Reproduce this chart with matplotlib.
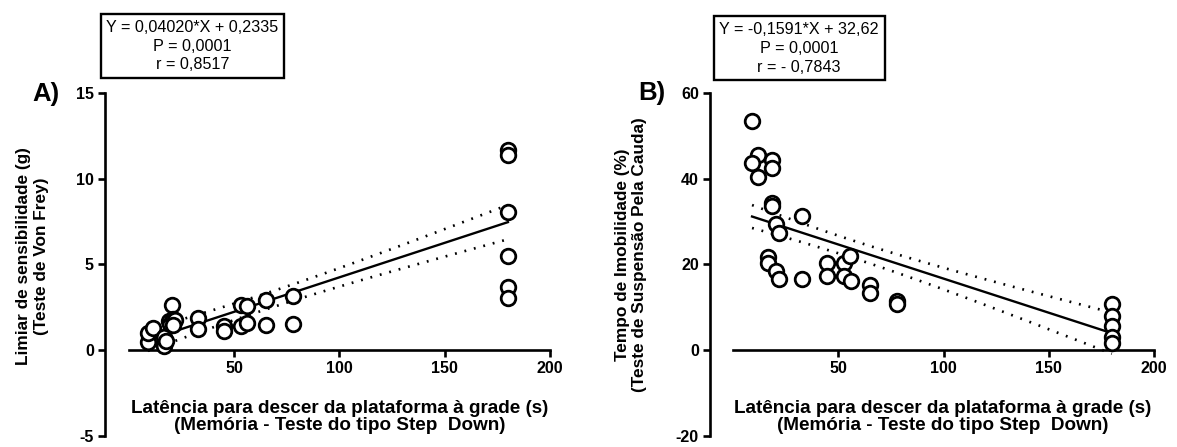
import numpy as np
import matplotlib
matplotlib.use("Agg")
import matplotlib.pyplot as plt

plt.rcParams['font.family'] = ['Liberation Sans', 'DejaVu Sans']
plt.rcParams['axes.unicode_minus'] = False

# Panel A: latency (s) vs. Von Frey threshold (g)
lat_a = [9, 9, 11.5, 16.5, 16.5, 17.5, 19, 19.5, 20.5, 21, 22, 21, 33, 33,
         45, 45, 53, 53, 56, 56, 65, 65, 78, 78, 180, 180, 180, 180, 180, 180]
von_frey = [0.5, 1.0, 1.27, 0.25, 0.8, 0.55, 1.7, 1.55, 2.65, 1.85, 1.75, 1.5, 1.9, 1.25,
            1.42, 1.12, 2.65, 1.4, 2.6, 1.6, 2.95, 1.45, 3.15, 1.55, 11.65, 11.4, 8.05, 5.5, 3.7, 3.05]
slope_a, icpt_a = 0.04020, 0.2335
band_end_a = 1.0   # half-width of the dotted band at the last x

# Panel B: latency (s) vs. immobility time (%)
lat_b = [9, 12, 9, 12, 18.7, 18.7, 18.7, 18.7, 32.7, 20.4, 21.6, 16.8, 16.8, 20.4, 21.6, 32.7,
         44.8, 44.8, 52.7, 52.7, 55.7, 56.2, 65, 65, 78, 78, 180, 180, 180, 180, 180]
imob = [53.5, 45.5, 43.6, 40.3, 44.3, 42.6, 34.4, 33.7, 31.3, 29.5, 27.4, 21.8, 20.4, 18.4, 16.7, 16.7,
        20.4, 17.3, 20.4, 17.3, 22.0, 16.2, 15.2, 13.4, 11.4, 10.9, 10.7, 8.0, 5.6, 3.2, 1.7]
slope_b, icpt_b = -0.1591, 32.62
band_end_b = 4.8

box_a = "Y = 0,04020*X + 0,2335\nP = 0,0001\nr = 0,8517"
box_b = "Y = -0,1591*X + 32,62\nP = 0,0001\nr = - 0,7843"
xlab = "Latência para descer da plataforma à grade (s)\n(Memória - Teste do tipo Step  Down)"
ylab_a = "Limiar de sensibilidade (g)\n(Teste de Von Frey)"
ylab_b = "Tempo de Imobilidade (%)\n(Teste de Suspensão Pela Cauda)"


def panel(ax, x, y, slope, icpt, band_end, ylim, yticks, xleft):
    x = np.array(x, float)
    y = np.array(y, float)
    xs = np.linspace(x.min(), x.max(), 100)
    fit = slope * xs + icpt
    # confidence band shape of the fitted line, scaled to the width seen in the figure
    n = len(x)
    shape = np.sqrt(1 / n + (xs - x.mean()) ** 2 / ((x - x.mean()) ** 2).sum())
    half = shape / shape[-1] * band_end
    ax.plot(xs, fit, color='black', lw=1.7, zorder=2)
    ax.plot(xs, fit + half, color='black', lw=1.9, ls=(0, (0.7, 3.0)), zorder=2)
    ax.plot(xs, fit - half, color='black', lw=1.9, ls=(0, (0.7, 3.0)), zorder=2)
    ax.plot(x, y, 'o', ms=10.5, mfc='white', mec='black', mew=2.0, zorder=3, clip_on=False)
    ax.set_xlim(xleft, 200)
    ax.set_ylim(*ylim)
    ax.spines['top'].set_visible(False)
    ax.spines['right'].set_visible(False)
    ax.spines['bottom'].set_position(('data', 0))
    ax.spines['bottom'].set_bounds(0, 200)
    for sp in ('left', 'bottom'):
        ax.spines[sp].set_linewidth(1.9)
    ax.set_xticks([50, 100, 150, 200])
    ax.set_yticks(yticks)
    ax.tick_params(width=1.9, length=5, labelsize=11.6, pad=3)
    for lab in ax.get_xticklabels() + ax.get_yticklabels():
        lab.set_fontweight('bold')


fig = plt.figure(figsize=(11.77, 4.47), dpi=100)
ax1 = fig.add_axes([0.0892, 0.0246, 0.3781, 0.7674])
ax2 = fig.add_axes([0.6032, 0.0246, 0.3772, 0.7674])

panel(ax1, lat_a, von_frey, slope_a, icpt_a, band_end_a, (-5, 15), [-5, 0, 5, 10, 15], -11.4)
panel(ax2, lat_b, imob, slope_b, icpt_b, band_end_b, (-20, 60), [-20, 0, 20, 40, 60], -11)

bb = dict(boxstyle='square,pad=0.35', fc='white', ec='black', lw=1.7)
fig.text(0.1636, 0.897, box_a, ha='center', va='center', fontsize=11.6,
         linespacing=1.32, bbox=bb)
fig.text(0.679, 0.892, box_b, ha='center', va='center', fontsize=11.6,
         linespacing=1.32, bbox=bb)

fig.text(0.039, 0.79, "A)", ha='center', va='center', fontsize=18.5, fontweight='bold')
fig.text(0.554, 0.792, "B)", ha='center', va='center', fontsize=18.5, fontweight='bold')

fig.text(0.0272, 0.427, ylab_a, rotation=90, ha='center', va='center', fontsize=12.4,
         fontweight='bold', linespacing=1.25)
fig.text(0.536, 0.43, ylab_b, rotation=90, ha='center', va='center', fontsize=12.4,
         fontweight='bold', linespacing=1.2)

fig.text(0.2884, 0.066, xlab, ha='center', va='center', fontsize=13.6, fontweight='bold',
         linespacing=1.0)
fig.text(0.801, 0.066, xlab, ha='center', va='center', fontsize=13.6, fontweight='bold',
         linespacing=1.0)

fig.savefig("out.png", dpi=100)
